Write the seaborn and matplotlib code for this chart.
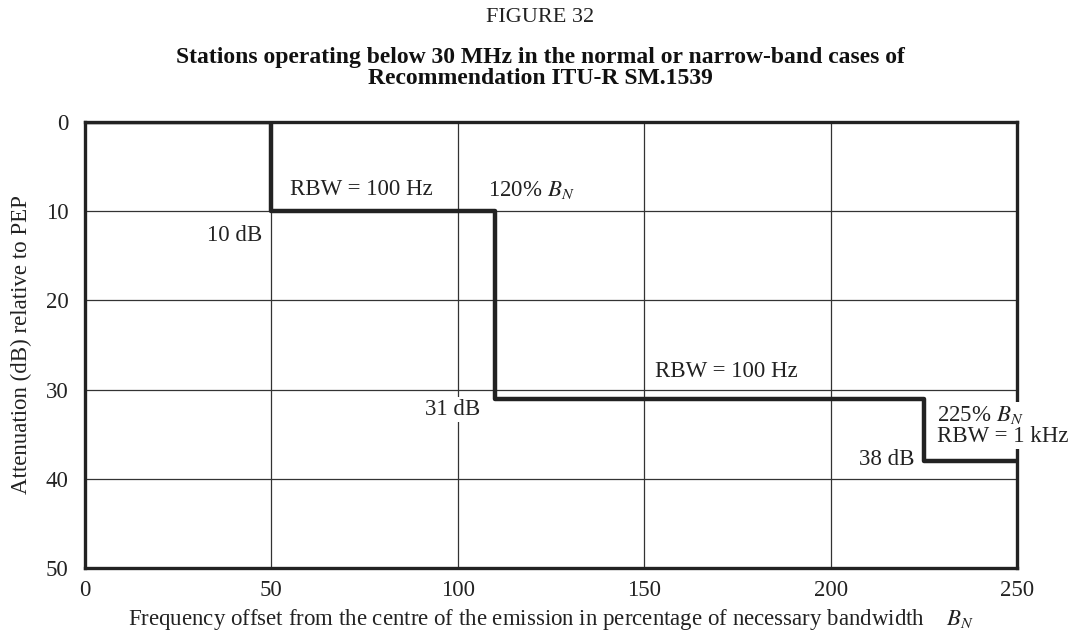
import matplotlib
matplotlib.use("Agg")
import matplotlib.pyplot as plt
import seaborn as sns
import pandas as pd

# Data
freq_offset = [0, 50, 110, 225, 250]
attenuation = [0, 10, 31, 38, 38]
x_ticks = [0, 50, 100, 150, 200, 250]
y_ticks = [0, 10, 20, 30, 40, 50]

sns.set_theme(style="white")
plt.rcParams['font.family'] = ['Liberation Serif', 'DejaVu Serif']
plt.rcParams['mathtext.fontset'] = 'stix'

fig = plt.figure(figsize=(10.81, 6.41), dpi=100)
ax = fig.add_axes([85/1081, 1-568/641, (1017-85)/1081, (568-122)/641])

df = pd.DataFrame({"f": freq_offset, "a": attenuation})
sns.lineplot(data=df, x="f", y="a", drawstyle="steps-post", estimator=None,
             sort=False, color="#222222", linewidth=3.2, ax=ax, zorder=3)

fs = 16.5
ax.set_xlim(0, 250)
ax.set_ylim(50, 0)
ax.set_xticks(x_ticks)
ax.set_yticks(y_ticks)
ax.tick_params(axis='both', length=0, labelsize=fs, colors="#222222")
ax.tick_params(axis='x', pad=9)
ax.tick_params(axis='y', pad=12)
ax.grid(True, color="#333333", linewidth=0.9)
for s in ax.spines.values():
    s.set_color("#222222")
    s.set_linewidth(2.4)
    s.set_visible(True)

ax.set_xlabel(r"Frequency offset from the centre of the emission in percentage of necessary bandwidth    $B_N$",
              fontsize=fs, color="#222222", labelpad=4)
ax.set_ylabel("Attenuation (dB) relative to PEP", fontsize=fs, color="#222222", labelpad=10)

fig.text(0.5, 1-17/641, "FIGURE 32", ha="center", va="center", fontsize=16, color="#222222")
fig.text(0.5, 1-68/641, "Stations operating below 30 MHz in the normal or narrow-band cases of\nRecommendation ITU-R SM.1539",
         ha="center", va="center", fontsize=17, fontweight="bold", color="#111111", linespacing=0.95)

bb = dict(facecolor="white", edgecolor="none", pad=1.5)
ax.text(55, 7.6, "RBW = 100 Hz", ha="left", va="center", fontsize=fs, color="#222222")
ax.text(47.5, 12.7, "10 dB", ha="right", va="center", fontsize=fs, color="#222222")
ax.text(108, 7.6, r"120% $B_N$", ha="left", va="center", fontsize=fs, color="#222222")
ax.text(106, 32.2, "31 dB", ha="right", va="center", fontsize=fs, color="#222222", bbox=bb, zorder=4)
ax.text(153, 28.0, "RBW = 100 Hz", ha="left", va="center", fontsize=fs, color="#222222")
ax.text(228.5, 34.0, "225% $B_N$\nRBW = 1 kHz", ha="left", va="center", fontsize=fs,
        color="#222222", bbox=bb, zorder=5, clip_on=False, linespacing=1.0)
ax.text(222.5, 37.8, "38 dB", ha="right", va="center", fontsize=fs, color="#222222", bbox=bb, zorder=4)

fig.savefig("out.png", dpi=100)
